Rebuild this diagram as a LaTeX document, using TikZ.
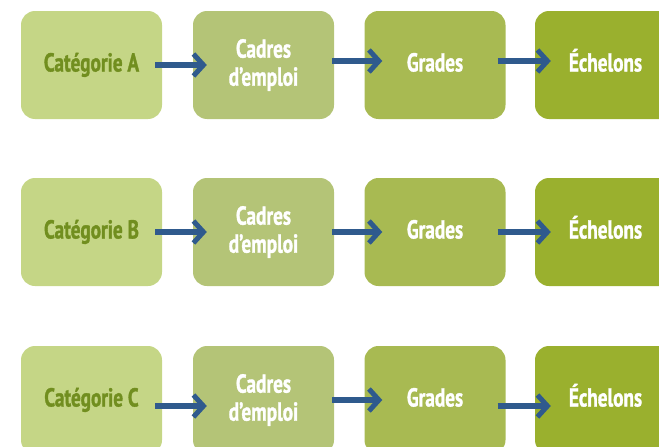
\documentclass[tikz,border=0pt]{standalone}
\usepackage{fontspec}
\setmainfont{PT Sans}[FakeStretch=0.74,BoldFeatures={FakeBold=1.2}]
\usetikzlibrary{positioning}
\usetikzlibrary{arrows.meta}

\definecolor{greenA}{RGB}{197,214,134}
\definecolor{greenB}{RGB}{180,196,119}
\definecolor{greenC}{RGB}{168,186,82}
\definecolor{greenD}{RGB}{154,176,46}
\definecolor{darkgreen}{RGB}{113,142,31}
\definecolor{flowblue}{RGB}{47,90,141}

\begin{document}
\begin{tikzpicture}[x=1pt,y=-1pt]
	\tikzstyle{box} = [rounded corners=14pt,minimum width=141pt,minimum height=108pt,inner sep=0pt,align=center,font=\bfseries\fontsize{26}{28}\selectfont,text=white]
	\tikzstyle{word} = [box,text height=19pt,text depth=6pt]
	\tikzstyle{flow} = [draw=flowblue,line width=5.5pt,-{Straight Barb[length=10pt,width=22pt,line width=5pt]}]

	\useasboundingbox (0,0) rectangle (659,447);

	% row A
	\node[word,fill=greenA,text=darkgreen] at (91.5,65) (catA) {Catégorie A};
	\node[box,fill=greenB] at (263.5,65) (cadA) {Cadres\\d’emploi};
	\node[word,fill=greenC] at (435,65) (graA) {Grades};
	\node[word,fill=greenD] at (605.5,65) (echA) {Échelons};

	% row B
	\node[word,fill=greenA,text=darkgreen] at (91.5,232) (catB) {Catégorie B};
	\node[box,fill=greenB] at (263.5,232) (cadB) {Cadres\\d’emploi};
	\node[word,fill=greenC] at (435,232) (graB) {Grades};
	\node[word,fill=greenD] at (605.5,232) (echB) {Échelons};

	% row C
	\node[word,fill=greenA,text=darkgreen] at (91.5,400) (catC) {Catégorie C};
	\node[box,fill=greenB] at (263.5,400) (cadC) {Cadres\\d’emploi};
	\node[word,fill=greenC] at (435,400) (graC) {Grades};
	\node[word,fill=greenD] at (605.5,400) (echC) {Échelons};

	\begin{scope}[flow]
		\draw ([xshift=-7pt]catA.east) -- ([xshift=14pt]cadA.west);
		\draw ([xshift=-2pt,yshift=4pt]cadA.east) -- ([xshift=18pt,yshift=4pt]graA.west);
		\draw ([xshift=-8pt,yshift=4pt]graA.east) -- ([xshift=16pt,yshift=4pt]echA.west);

		\draw ([xshift=-7pt]catB.east) -- ([xshift=14pt]cadB.west);
		\draw ([xshift=-2pt]cadB.east) -- ([xshift=18pt]graB.west);
		\draw ([xshift=-8pt]graB.east) -- ([xshift=16pt]echB.west);

		\draw ([xshift=-7pt,yshift=-6pt]catC.east) -- ([xshift=14pt,yshift=-6pt]cadC.west);
		\draw ([xshift=-2pt]cadC.east) -- ([xshift=18pt]graC.west);
		\draw ([xshift=-8pt,yshift=-6pt]graC.east) -- ([xshift=16pt,yshift=-6pt]echC.west);
	\end{scope}
\end{tikzpicture}
\end{document}
